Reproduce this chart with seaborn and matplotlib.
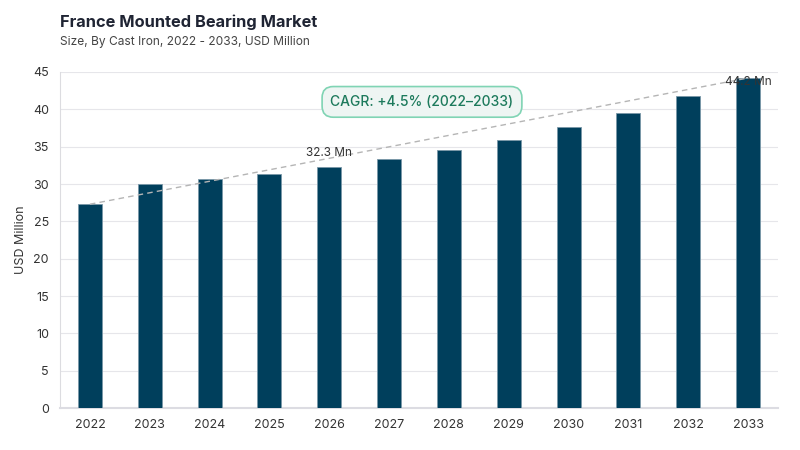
import matplotlib
matplotlib.use("Agg")
import matplotlib.pyplot as plt
import seaborn as sns
import pandas as pd

years = ["2022", "2023", "2024", "2025", "2026", "2027", "2028", "2029", "2030", "2031", "2032", "2033"]
values = [27.3, 30.0, 30.7, 31.3, 32.3, 33.3, 34.5, 35.9, 37.6, 39.5, 41.8, 44.2]
yticks = [0, 5, 10, 15, 20, 25, 30, 35, 40, 45]
title = "France Mounted Bearing Market"
subtitle = "Size, By Cast Iron, 2022 - 2033, USD Million"
cagr_text = "CAGR: +4.5% (2022–2033)"

sns.set_theme(style="white")
plt.rcParams['font.family'] = ['Inter', 'DejaVu Sans']

df = pd.DataFrame({"year": years, "value": values})

fig = plt.figure(figsize=(8, 4.5), dpi=100)
ax = fig.add_axes([0.075, 0.093, 0.8975, 0.747])

sns.barplot(data=df, x="year", y="value", color="#003f5c", width=0.4,
            edgecolor="#7a98a8", linewidth=0.6, saturation=1, ax=ax, zorder=3)

ax.set_ylim(0, 45)
ax.set_xlim(-0.5, 11.5)
ax.set_yticks(yticks)
ax.yaxis.grid(True, color="#e6e6ea", linewidth=0.8, zorder=0)
ax.set_axisbelow(True)
for s in ["top", "right"]:
    ax.spines[s].set_visible(False)
ax.spines["left"].set_color("#dcdce0")
ax.spines["left"].set_linewidth(0.8)
ax.spines["bottom"].set_color("#dcdce2")
ax.spines["bottom"].set_linewidth(1.5)
ax.tick_params(axis="both", length=0, labelsize=9, colors="#333333", pad=8)
ax.set_xlabel("")
ax.set_ylabel("USD Million", fontsize=9, color="#333333", labelpad=4)

# dashed trend line
ax.plot([0, 11], [values[0], values[-1]], linestyle=(0, (4, 3)), color="#b5b5b5",
        linewidth=1, zorder=4)

ax.text(4, 34.15, f"{values[4]} Mn", ha="center", va="center", fontsize=8.5, color="#333333", zorder=5)
ax.text(11, 43.65, f"{values[-1]} Mn", ha="center", va="center", fontsize=8.5, color="#333333", zorder=5)

ax.text(5.55, 41.0, cagr_text, ha="center", va="center", fontsize=10, color="#1d7a5c",
        fontweight="medium", zorder=6,
        bbox=dict(boxstyle="round,pad=0.6,rounding_size=0.8", facecolor="#eef5f3",
                  edgecolor="#80d4b4", linewidth=1.2))

fig.text(0.075, 0.951, title, fontsize=11.8, fontweight="bold", color="#1f2433", va="center")
fig.text(0.075, 0.907, subtitle, fontsize=8.6, color="#444444", va="center")

fig.savefig("out.png", dpi=100)
